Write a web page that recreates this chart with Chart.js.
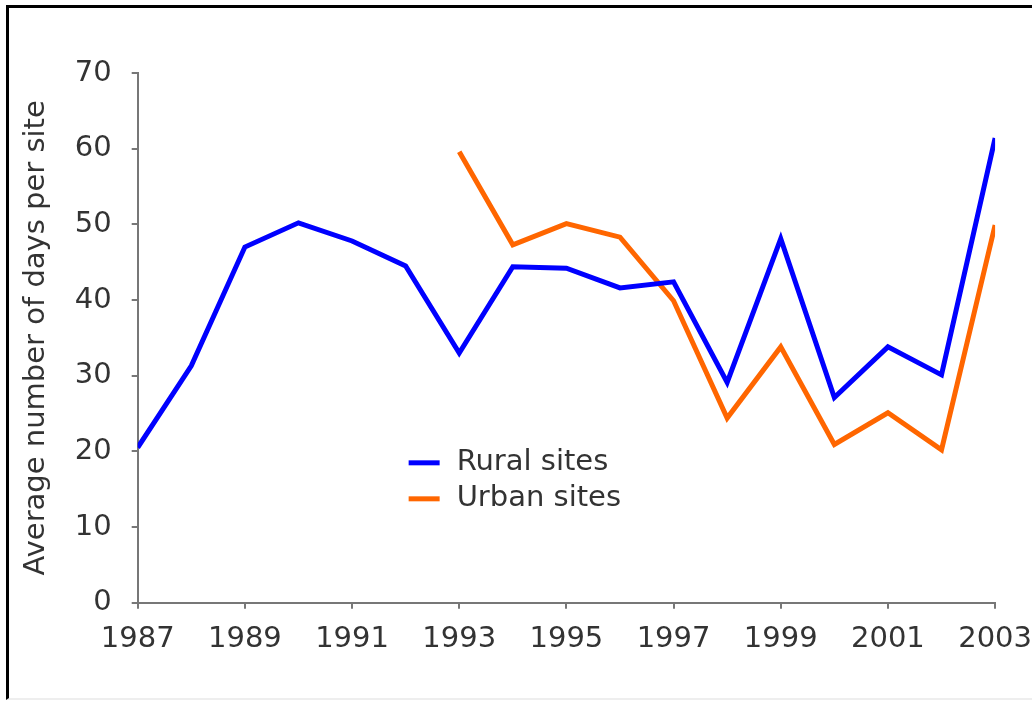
<!DOCTYPE html>
<html>
<head>
<meta charset="utf-8">
<script src="https://cdn.jsdelivr.net/npm/chart.js@4"></script>
<style>
  html, body { margin: 0; padding: 0; background: #fff; }
  #frame {
    position: absolute; left: 6px; top: 5px; width: 1026px; height: 695px;
    border-top: 3px solid #000; border-left: 3px solid #000;
    border-bottom: 2px solid #eee; box-sizing: border-box;
  }
  #wrap { position: absolute; left: 0; top: 0; width: 1032px; height: 702px; }
</style>
</head>
<body>
<div id="frame"></div>
<div id="wrap"><canvas id="chart" width="1032" height="702"></canvas></div>
<script>
// values
const years = [1987, 1988, 1989, 1990, 1991, 1992, 1993, 1994, 1995, 1996, 1997, 1998, 1999, 2000, 2001, 2002, 2003];
const rural = [20.5, 31.3, 47.0, 50.2, 47.8, 44.5, 33.0, 44.4, 44.2, 41.6, 42.4, 29.1, 48.1, 27.1, 33.8, 30.1, 61.4];
const urban = [null, null, null, null, null, null, 59.6, 47.3, 50.1, 48.3, 39.9, 24.4, 33.8, 20.9, 25.1, 20.2, 49.9];
const seriesNames = ["Rural sites", "Urban sites"];
const seriesColors = ["#0000ff", "#ff6600"];

const toPoints = (vals) => years.map((yr, i) => ({ x: yr, y: vals[i] }));

const font = "'DejaVu Sans', Verdana, sans-serif";
const fontSize = 29;

// legend sits inside the plot area, below the lines
const innerLegend = {
  id: "innerLegend",
  afterDraw(chart) {
    const ctx = chart.ctx;
    const area = chart.chartArea;
    const x0 = area.left + (area.right - area.left) * 0.316;
    let y = area.top + (area.bottom - area.top) * 0.736;
    ctx.save();
    ctx.font = fontSize + "px " + font;
    ctx.textBaseline = "middle";
    chart.data.datasets.forEach((ds) => {
      ctx.strokeStyle = ds.borderColor;
      ctx.lineWidth = 5;
      ctx.beginPath();
      ctx.moveTo(x0, y);
      ctx.lineTo(x0 + 31, y);
      ctx.stroke();
      ctx.fillStyle = "#333";
      ctx.fillText(ds.label, x0 + 48, y);
      y += 36;
    });
    ctx.restore();
  },
};

const ctx = document.getElementById("chart").getContext("2d");
new Chart(ctx, {
  type: "line",
  data: {
    datasets: [
      {
        label: seriesNames[0],
        data: toPoints(rural),
        borderColor: seriesColors[0],
        borderWidth: 5,
        pointRadius: 0,
        tension: 0,
      },
      {
        label: seriesNames[1],
        data: toPoints(urban),
        borderColor: seriesColors[1],
        borderWidth: 5,
        pointRadius: 0,
        tension: 0,
        spanGaps: false,
      },
    ],
  },
  options: {
    responsive: false,
    animation: false,
    layout: { padding: { left: 0, right: 0, top: 73, bottom: 31 } },
    plugins: { legend: { display: false }, tooltip: { enabled: false } },
    scales: {
      x: {
        type: "linear",
        min: 1987,
        max: 2003,
        ticks: {
          stepSize: 2,
          color: "#333",
          font: { family: font, size: fontSize, lineHeight: 2.15 },
          padding: 0,
          callback: (v) => String(v),
        },
        grid: { drawOnChartArea: false, drawTicks: true, tickLength: 6, color: "#777", lineWidth: 2 },
        border: { display: true, color: "#777", width: 2 },
      },
      y: {
        min: 0,
        max: 70,
        ticks: {
          stepSize: 10,
          color: "#333",
          font: { family: font, size: fontSize },
          padding: 20,
        },
        title: {
          display: true,
          text: "Average number of days per site",
          color: "#333",
          font: { family: font, size: fontSize },
          padding: { top: 19, bottom: 1 },
        },
        grid: { drawOnChartArea: false, drawTicks: true, tickLength: 6, color: "#777", lineWidth: 2 },
        border: { display: true, color: "#777", width: 2 },
      },
    },
  },
  plugins: [innerLegend],
});
</script>
</body>
</html>
